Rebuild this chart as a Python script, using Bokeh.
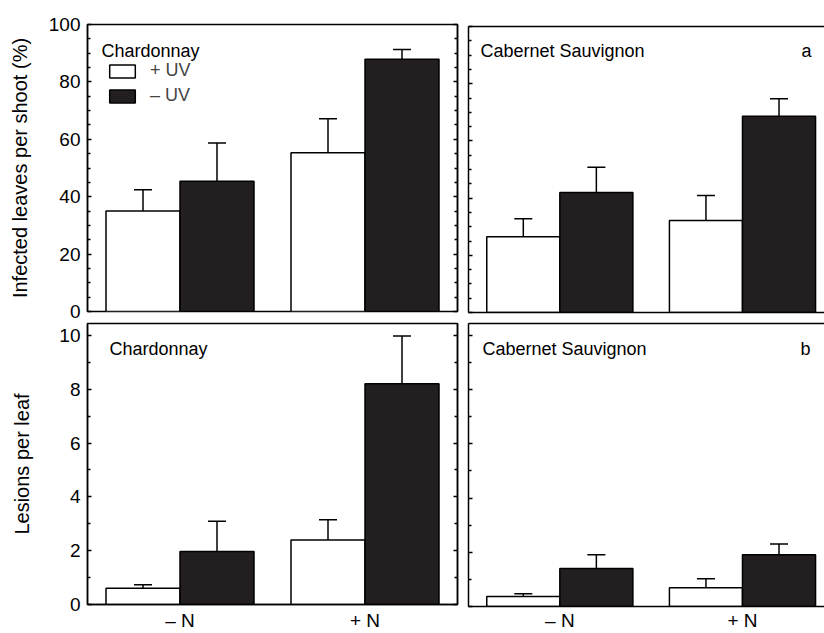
import numpy as np
from bokeh.plotting import figure
from bokeh.models import (ColumnDataSource, Whisker, TeeHead, FixedTicker, LinearAxis,
                          Range1d, Label, Legend, LegendItem)
from bokeh.layouts import column, row
from bokeh.embed import file_html
from bokeh.resources import INLINE

# ---------------- data ----------------
groups = ["– N", "+ N"]
group_pos = [1, 2]

# (a) infected leaves per shoot (%)
char_a_plus_uv = [35.0, 55.3]
char_a_plus_uv_err = [7.4, 11.9]
char_a_minus_uv = [45.4, 87.9]
char_a_minus_uv_err = [13.3, 3.4]

cab_a_plus_uv = [26.5, 32.2]
cab_a_plus_uv_err = [6.3, 8.7]
cab_a_minus_uv = [42.0, 68.6]
cab_a_minus_uv_err = [8.8, 6.1]

# (b) lesions per leaf
char_b_plus_uv = [0.6, 2.4]
char_b_plus_uv_err = [0.13, 0.75]
char_b_minus_uv = [1.97, 8.2]
char_b_minus_uv_err = [1.12, 1.78]

cab_b_plus_uv = [0.37, 0.69]
cab_b_plus_uv_err = [0.1, 0.33]
cab_b_minus_uv = [1.4, 1.91]
cab_b_minus_uv_err = [0.51, 0.4]

a_ticks = [0, 20, 40, 60, 80, 100]
a_minor = [v for v in range(0, 101, 5) if v % 20]
b_ticks = [0, 2, 4, 6, 8, 10]
b_minor = [1, 3, 5, 7, 9]

FONT = "Liberation Sans"
BLACK = "#231f20"
LW = 1.5


def tick_axis(ticks, minor, labels, size="19px", standoff=7):
    ax = LinearAxis(ticker=FixedTicker(ticks=ticks, minor_ticks=minor))
    ax.major_tick_in = 4
    ax.major_tick_out = 0
    ax.minor_tick_in = 3
    ax.minor_tick_out = 0
    ax.major_tick_line_color = "black"
    ax.minor_tick_line_color = "black"
    ax.major_tick_line_width = 1.5
    ax.minor_tick_line_width = 1.5
    ax.axis_line_color = "black"
    ax.axis_line_width = LW
    if labels:
        ax.major_label_text_font = FONT
        ax.major_label_text_font_size = size
        ax.major_label_text_color = "black"
        ax.major_label_standoff = standoff
    else:
        ax.major_label_overrides = {t: "" for t in ticks}
        ax.major_label_standoff = 0
        ax.major_label_text_font_size = "1px"
    return ax


def line_axis(ticks=None, overrides=None, standoff=5):
    ax = LinearAxis(ticker=FixedTicker(ticks=ticks or [], minor_ticks=[]))
    ax.major_tick_in = 0
    ax.major_tick_out = 0
    ax.minor_tick_in = 0
    ax.minor_tick_out = 0
    ax.axis_line_color = "black"
    ax.axis_line_width = LW
    if overrides:
        ax.major_label_overrides = overrides
        ax.major_label_text_font = FONT
        ax.major_label_text_font_size = "19px"
        ax.major_label_text_color = "black"
        ax.major_label_standoff = standoff
    else:
        ax.major_label_text_font_size = "1px"
        ax.major_label_standoff = 0
    return ax


def panel(width, height, borders, x_end, y_end, plus, plus_err, minus, minus_err,
          ticks, minor, is_left, is_bottom, ylabel=None, ylabel_standoff=12, xstandoff=5):
    bl, br, bt, bb = borders
    p = figure(width=width, height=height, x_range=Range1d(0.5, x_end),
               y_range=Range1d(0, y_end), output_backend="svg", toolbar_location=None,
               x_axis_location=None, y_axis_location=None,
               min_border_left=bl, min_border_right=br, min_border_top=bt,
               min_border_bottom=bb, frame_align=False)
    p.grid.grid_line_color = None
    p.background_fill_color = "white"
    p.border_fill_color = "white"
    p.outline_line_color = "black" if is_left else None
    p.outline_line_width = LW

    xs = np.array(group_pos, dtype=float)
    plus = np.array(plus); plus_err = np.array(plus_err)
    minus = np.array(minus); minus_err = np.array(minus_err)
    s1 = ColumnDataSource(dict(x=xs - 0.2, top=plus, upper=plus + plus_err, lower=plus - plus_err))
    s2 = ColumnDataSource(dict(x=xs + 0.2, top=minus, upper=minus + minus_err, lower=minus - minus_err))
    r1 = p.vbar(x="x", top="top", bottom=0, width=0.4, source=s1, fill_color="white",
                line_color="black", line_width=LW)
    r2 = p.vbar(x="x", top="top", bottom=0, width=0.4, source=s2, fill_color=BLACK,
                line_color="black", line_width=LW)
    for s in (s1, s2):
        p.add_layout(Whisker(source=s, base="x", upper="upper", lower="lower",
                             line_color="black", line_width=LW,
                             upper_head=TeeHead(size=18, line_color="black", line_width=LW),
                             lower_head=TeeHead(size=18, line_color="black", line_width=LW)))

    if is_left:
        ax = tick_axis(ticks, minor, True)
        ax.axis_label = ylabel
        ax.axis_label_text_font = FONT
        ax.axis_label_text_font_size = "20px"
        ax.axis_label_text_font_style = "normal"
        ax.axis_label_text_color = "black"
        ax.axis_label_standoff = ylabel_standoff
        p.add_layout(ax, "left")
        p.add_layout(tick_axis(ticks, minor, False), "right")
    else:
        p.add_layout(tick_axis(ticks, minor, False), "left")
        p.add_layout(line_axis(), "above")
    if is_bottom:
        p.add_layout(line_axis(group_pos, dict(zip(group_pos, groups)), xstandoff), "below")
    elif not is_left:
        p.add_layout(line_axis(), "below")
    return p, r1, r2


def add_text(p, text, x, y, align="left"):
    p.add_layout(Label(x=x, y=y, x_units="screen", y_units="screen", text=text,
                       text_font=FONT, text_font_size="18px", text_color="black",
                       text_align=align, text_baseline="alphabetic"))


L_W, R_W = 462, 362
TOP_H, BOT_H = 322, 311

p_tl, r1, r2 = panel(L_W, TOP_H, (87, 5, 24, 11), 2.5, 100,
                     char_a_plus_uv, char_a_plus_uv_err, char_a_minus_uv, char_a_minus_uv_err,
                     a_ticks, a_minor, True, False, "Infected leaves per shoot (%)", 15)
add_text(p_tl, "Chardonnay", 14, 261)
leg = Legend(items=[LegendItem(label="+ UV", renderers=[r1]),
                    LegendItem(label="– UV", renderers=[r2])],
             location=(19, 205), border_line_color=None, background_fill_alpha=0,
             padding=0, margin=0, spacing=4, glyph_width=32, glyph_height=16,
             label_text_font=FONT, label_text_font_size="18px", label_standoff=12,
             label_height=16)
p_tl.add_layout(leg)

p_tr, _, _ = panel(R_W, TOP_H, (6, 0, 26, 10), 2.449, 100,
                   cab_a_plus_uv, cab_a_plus_uv_err, cab_a_minus_uv, cab_a_minus_uv_err,
                   a_ticks, a_minor, False, False)
add_text(p_tr, "Cabernet Sauvignon", 12, 262)
add_text(p_tr, "a", 343, 262, "right")

p_bl, _, _ = panel(L_W, BOT_H, (87, 5, 1, 27), 2.5, 10.44,
                   char_b_plus_uv, char_b_plus_uv_err, char_b_minus_uv, char_b_minus_uv_err,
                   b_ticks, b_minor, True, True, "Lesions per leaf", 23, 5)
add_text(p_bl, "Chardonnay", 22, 256)

p_br, _, _ = panel(R_W, BOT_H, (6, 0, 1, 25), 2.449, 10.44,
                   cab_b_plus_uv, cab_b_plus_uv_err, cab_b_minus_uv, cab_b_minus_uv_err,
                   b_ticks, b_minor, False, True, xstandoff=3)
add_text(p_br, "Cabernet Sauvignon", 14, 258)
add_text(p_br, "b", 342, 258, "right")

layout = column(row(p_tl, p_tr), row(p_bl, p_br))
open("out.html", "w").write(file_html(layout, INLINE))
